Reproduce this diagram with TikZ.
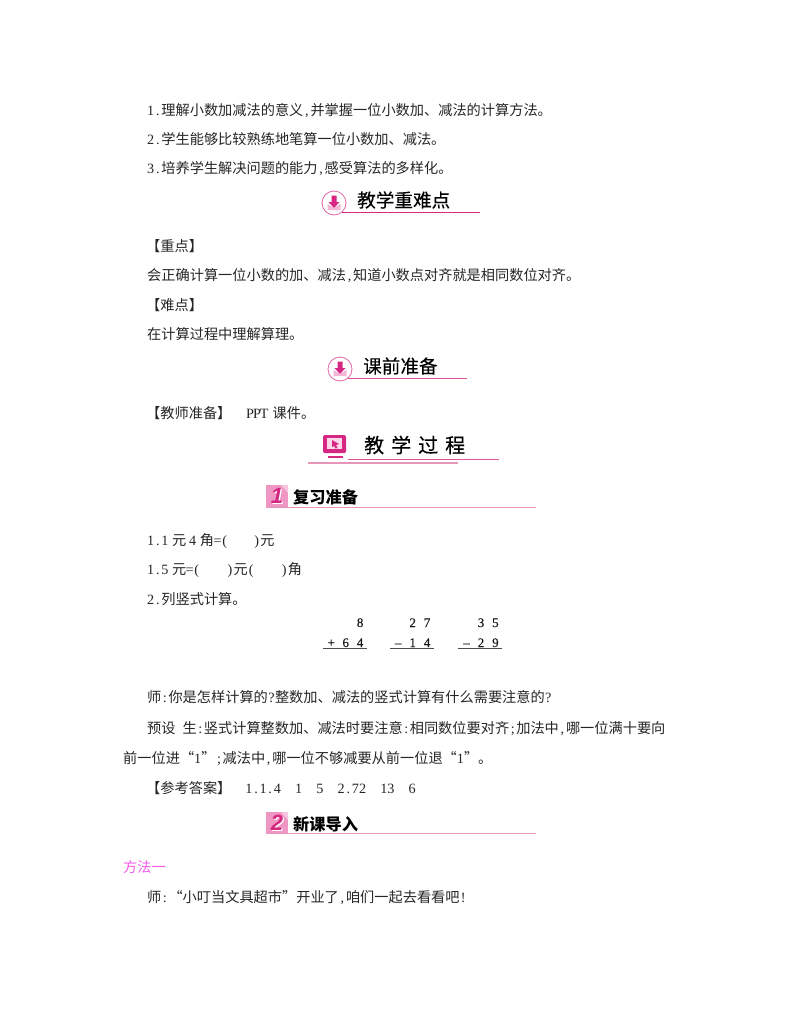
\documentclass[tikz,border=0pt]{standalone}
\usepackage{fontspec}
\setmainfont{Liberation Serif}
\newfontfamily\cjk{Noto Sans CJK SC}
\newfontfamily\cjkmed[FakeBold=0.25]{Noto Sans CJK SC}
\newfontfamily\nbfont{Liberation Sans}
\newfontfamily\digbold[FakeBold=0.2]{Liberation Serif}
\definecolor{rosa}{RGB}{214,40,130}
\definecolor{rosal}{RGB}{230,150,185}
\definecolor{rosam}{RGB}{240,150,195}
\definecolor{mag}{RGB}{245,90,235}
\def\hw#1{\hwi#1\relax}
\def\hwi#1{\ifx#1\relax\else\makebox[7.1pt][c]{\rmfamily #1}\expandafter\hwi\fi}
\newcommand{\qo}{\makebox[14.2pt][r]{“}}
\newcommand{\qc}{\makebox[14.2pt][l]{”}}
\newcommand{\cell}[1]{\makebox[14.4pt][c]{#1}}
\tikzset{
  body/.style={anchor=base west,yshift=-5.4pt,inner sep=0pt,font=\cjk\fontsize{14.2}{14.2}\selectfont,text=black!85},
  head/.style={anchor=west,inner sep=0pt,font=\cjkmed\fontsize{18.6}{18.6}\selectfont,text=black},
  subhead/.style={anchor=west,inner sep=0pt,font=\cjk\bfseries\fontsize{16.2}{16.2}\selectfont,text=black},
  num/.style={inner sep=0pt,anchor=base,font=\digbold\fontsize{13}{13}\selectfont,text=black!90},
  rule/.style={black!70,line width=.8pt},
  badge/.style={draw=rosa!70,fill=white,line width=.8pt,circle,minimum size=24pt,inner sep=0pt},
}
\newcommand{\arrowbadge}[3]{%
  \node[badge] (#3) at (#1,#2) {};
  \fill[rosam!70] (#1-6.5,#2+1) -- (#1,#2+5) -- (#1+6.5,#2+1) -- (#1+6.5,#2+7) -- (#1-6.5,#2+7) -- cycle;
  \fill[rosa] (#1-2.5,#2-7.5) -- (#1+2.5,#2-7.5) -- (#1+2.5,#2-1) -- (#1+5.5,#2-1) -- (#1,#2+5) -- (#1-5.5,#2-1) -- (#1-2.5,#2-1) -- cycle;
}
\newcommand{\numbadge}[3]{%
  \fill[rosam] (#1-11,#2-11) rectangle (#1+11,#2+11);
  \fill[rosam!55] (#1+4,#2-11) -- (#1+11,#2-11) -- (#1+11,#2-3) -- cycle;
  \node[inner sep=0pt,font=\nbfont\fontsize{22}{22}\selectfont\bfseries\itshape,text=white] (nw#3) at (#1+1.2,#2+.8) {#3};
  \node[inner sep=0pt,font=\nbfont\fontsize{22}{22}\selectfont\bfseries\itshape,text=rosa] (nb#3) at (#1,#2) {#3};
}
\begin{document}
\begin{tikzpicture}[x=1pt,y=-1pt]
\useasboundingbox (0,0) rectangle (800,1028);
\fill[white] (0,0) rectangle (800,1028);
% objectives
\node[body] (l1) at (147,110) {\hw{1.}理解小数加减法的意义\hw{,}并掌握一位小数加、减法的计算方法。};
\node[body] (l2) at (147,139) {\hw{2.}学生能够比较熟练地笔算一位小数加、减法。};
\node[body] (l3) at (147,168) {\hw{3.}培养学生解决问题的能力\hw{,}感受算法的多样化。};
% head 1
\draw[rosa,line width=1.2pt] (342,212.5) -- (480,212.5);
\arrowbadge{334}{203}{b1}
\node[head] (h1) at (357,200) {教学重难点};
\node[body] (z1) at (146,246) {【重点】};
\node[body] (z2) at (147,275) {会正确计算一位小数的加、减法\hw{,}知道小数点对齐就是相同数位对齐。};
\node[body] (z3) at (146,305) {【难点】};
\node[body] (z4) at (147,334) {在计算过程中理解算理。};
% head 2
\draw[rosa!80,line width=.8pt] (347,378.5) -- (467,378.5);
\arrowbadge{340}{369}{b2}
\node[head] (h2) at (363,366) {课前准备};
\node[body] (p1) at (146,413) {【教师准备】\hspace{15pt}\hw{PPT}\hspace{5pt}课件。};
% head 3
\fill[rosa,rounded corners=1.5pt] (323,435) rectangle (346,453);
\fill[rosam!35] (327,438) rectangle (342,449);
\fill[rosa] (332,440) -- (339,444) -- (336,445) -- (337.5,448) -- (335.5,448.5) -- (334,446) -- (332,447) -- cycle;
\fill[rosa] (328,455.5) rectangle (343,457.5);
\draw[rosa!80,line width=.7pt] (348,459.5) -- (499,459.5);
\draw[rosal,line width=1.4pt] (308,463) -- (458,463);
\node[anchor=west,inner sep=0pt,font=\cjkmed\fontsize{20}{20}\selectfont] (h3) at (364,445) {教\hspace{7pt}学\hspace{7pt}过\hspace{7pt}程};
% head 4
\numbadge{277}{496}{1}
\draw[rosal,line width=1.8pt] (266,507.5) -- (536,507.5);
\node[subhead] (h4) at (293,497) {复习准备};
\node[body] (r1) at (147,540) {\hw{1.1}\hspace{3.5pt}元\hspace{3pt}\hw{4}\hspace{3.5pt}角\hw{=(}\hspace{25pt}\hw{)}元};
\node[body] (r2) at (147,569.5) {\hw{1.5}\hspace{3.5pt}元\hw{=(}\hspace{26pt}\hw{)}元\hw{(}\hspace{26pt}\hw{)}角};
\node[body] (r3) at (147,599) {\hw{2.}列竖式计算。};
% sums
\node[num] (a1) at (345.7,627) {\cell{}\cell{}\cell{8}};
\node[num] (a2) at (345.7,647) {\cell{+}\cell{6}\cell{4}};
\draw[rule] (323,648.5) -- (367,648.5);
\node[num] (b1) at (412.7,627) {\cell{}\cell{2}\cell{7}};
\node[num] (b2) at (412.7,647) {\cell{–}\cell{1}\cell{4}};
\draw[rule] (390,648.5) -- (434,648.5);
\node[num] (c1) at (481,627) {\cell{}\cell{3}\cell{5}};
\node[num] (c2) at (481,647) {\cell{–}\cell{2}\cell{9}};
\draw[rule] (458,648.5) -- (502,648.5);
\node[body] (t1) at (147,697) {师\hw{:}你是怎样计算的\hw{?}整数加、减法的竖式计算有什么需要注意的\hw{?}};
\node[body] (t2) at (147,728) {预设\hspace{7pt}生\hw{:}竖式计算整数加、减法时要注意\hw{:}相同数位要对齐\hw{;}加法中\hw{,}哪一位满十要向};
\node[body] (t3) at (123,758) {前一位进\qo\hw{1}\qc\hw{;}减法中\hw{,}哪一位不够减要从前一位退\qo\hw{1}\qc。};
\node[body] (t4) at (146,788) {【参考答案】\hspace{14pt}\hw{1.1.4}\hspace{14.2pt}\hw{1}\hspace{14.2pt}\hw{5}\hspace{14.2pt}\hw{2.72}\hspace{14.2pt}\hw{13}\hspace{14.2pt}\hw{6}};
% head 5
\numbadge{277}{823}{2}
\draw[rosal,line width=1.8pt] (266,833.5) -- (536,833.5);
\node[subhead] (h5) at (293,824) {新课导入};
\node[body,text=mag] (m1) at (123,867) {方法一};
\node[body] (m2) at (147,897) {师\hw{:}\qo 小叮当文具超市\qc 开业了\hw{,}咱们一起去看看吧\hw{!}};
\end{tikzpicture}
\end{document}
